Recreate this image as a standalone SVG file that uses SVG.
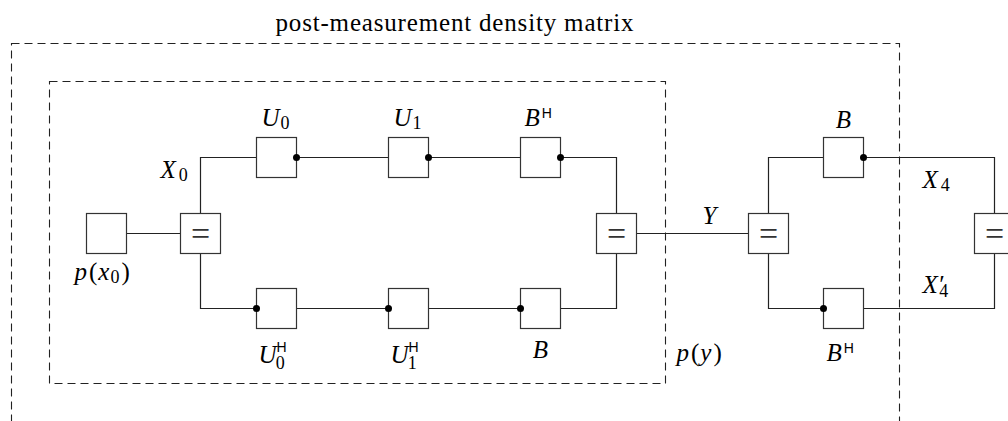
<svg xmlns="http://www.w3.org/2000/svg" width="1008" height="421" viewBox="0 0 1008 421">
<style>
.bg{fill:#ffffff}
.box{fill:#ffffff;stroke:#333333;stroke-width:1.2}
.wire{fill:none;stroke:#222222;stroke-width:1.2}
.dash{fill:none;stroke:#222222;stroke-width:1.1;stroke-dasharray:8 5}
.dot{fill:#000000}
text{font-family:"Liberation Serif","Times New Roman",serif;font-size:25px;fill:#000000}
.it{font-style:italic}
.sub{font-size:18px}
.sup{font-family:"Liberation Sans",Arial,sans-serif;font-size:14px}
.eq{font-size:34px;fill:#333333}
</style>
<rect class="bg" x="0" y="0" width="1008" height="421"/>
<g transform="translate(0.5,0.5)">

<g id="regions">
  <rect class="dash" x="11" y="43" width="888" height="400"/>
  <rect class="dash" x="49" y="81" width="616" height="302"/>
  <text x="275" y="30" textLength="358" lengthAdjust="spacing">post-measurement density matrix</text>
  <text x="676" y="360"><tspan class="it">p</tspan><tspan dx="2">(</tspan><tspan class="it" dx="1">y</tspan><tspan dx="2">)</tspan></text>
</g>

<g id="connectors">
  <path class="wire" d="M126 233 H180"/>
  <path class="wire" d="M200 213 V157 H256"/>
  <path class="wire" d="M296 157 H388"/>
  <path class="wire" d="M428 157 H520"/>
  <path class="wire" d="M560 157 H616 V213"/>
  <path class="wire" d="M200 253 V308 H256"/>
  <path class="wire" d="M296 308 H388"/>
  <path class="wire" d="M428 308 H520"/>
  <path class="wire" d="M560 308 H616 V253"/>
  <path class="wire" d="M636 233 H748"/>
  <path class="wire" d="M768 213 V157 H823"/>
  <path class="wire" d="M863 157 H994 V213"/>
  <path class="wire" d="M768 253 V308 H823"/>
  <path class="wire" d="M863 308 H994 V253"/>
  <text class="it" x="702" y="223">Y</text>
  <text x="160" y="177"><tspan class="it">X</tspan><tspan class="sub" dx="3" dy="3">0</tspan></text>
  <text x="922" y="187"><tspan class="it">X</tspan><tspan class="sub" dx="3" dy="3">4</tspan></text>
  <text x="922" y="292"><tspan class="it">X′</tspan><tspan class="sub" dx="-4" dy="4">4</tspan></text>
</g>

<g id="px0">
  <rect class="box" x="86" y="213" width="40" height="40"/>
  <text x="74" y="279"><tspan class="it">p</tspan><tspan dx="2">(</tspan><tspan class="it" dx="1">x</tspan><tspan class="sub" dx="1" dy="3">0</tspan><tspan dx="2" dy="-3">)</tspan></text>
</g>

<g id="eq0">
  <rect class="box" x="180" y="213" width="40" height="40"/>
  <text class="eq" x="200" y="244.5" text-anchor="middle">=</text>
</g>

<g id="U0">
  <rect class="box" x="256" y="137" width="40" height="40"/>
  <circle class="dot" cx="296" cy="157" r="3.5"/>
  <text x="261" y="125"><tspan class="it">U</tspan><tspan class="sub" dx="1" dy="3">0</tspan></text>
</g>

<g id="U1">
  <rect class="box" x="388" y="137" width="40" height="40"/>
  <circle class="dot" cx="428" cy="157" r="3.5"/>
  <text x="393" y="125"><tspan class="it">U</tspan><tspan class="sub" dx="1" dy="3">1</tspan></text>
</g>

<g id="BH_top">
  <rect class="box" x="520" y="137" width="40" height="40"/>
  <circle class="dot" cx="560" cy="157" r="3.5"/>
  <text x="524" y="125"><tspan class="it">B</tspan><tspan class="sup" dx="2" dy="-8">H</tspan></text>
</g>

<g id="U0H">
  <rect class="box" x="256" y="288" width="40" height="40"/>
  <circle class="dot" cx="256" cy="308" r="3.5"/>
  <text x="258" y="362"><tspan class="it">U</tspan><tspan class="sup" dx="0" dy="-11">H</tspan><tspan class="sub" dx="-11" dy="17">0</tspan></text>
</g>

<g id="U1H">
  <rect class="box" x="388" y="288" width="40" height="40"/>
  <circle class="dot" cx="388" cy="308" r="3.5"/>
  <text x="390" y="362"><tspan class="it">U</tspan><tspan class="sup" dx="0" dy="-11">H</tspan><tspan class="sub" dx="-11" dy="17">1</tspan></text>
</g>

<g id="B_bot">
  <rect class="box" x="520" y="288" width="40" height="40"/>
  <circle class="dot" cx="520" cy="308" r="3.5"/>
  <text class="it" x="540" y="357" text-anchor="middle">B</text>
</g>

<g id="eq1">
  <rect class="box" x="596" y="213" width="40" height="40"/>
  <text class="eq" x="616" y="244.5" text-anchor="middle">=</text>
</g>

<g id="eq2">
  <rect class="box" x="748" y="213" width="40" height="40"/>
  <text class="eq" x="768" y="244.5" text-anchor="middle">=</text>
</g>

<g id="B_right">
  <rect class="box" x="823" y="137" width="40" height="40"/>
  <circle class="dot" cx="863" cy="157" r="3.5"/>
  <text class="it" x="843" y="127" text-anchor="middle">B</text>
</g>

<g id="BH_right">
  <rect class="box" x="823" y="288" width="40" height="40"/>
  <circle class="dot" cx="823" cy="308" r="3.5"/>
  <text x="826" y="360"><tspan class="it">B</tspan><tspan class="sup" dx="2" dy="-8">H</tspan></text>
</g>

<g id="eq3">
  <rect class="box" x="974" y="213" width="40" height="40"/>
  <text class="eq" x="994" y="244.5" text-anchor="middle">=</text>
</g>
</g>
</svg>
